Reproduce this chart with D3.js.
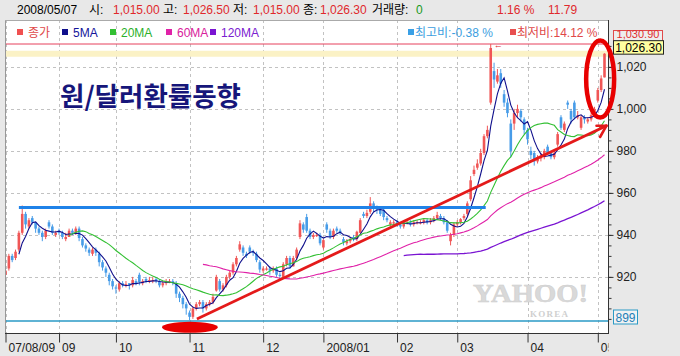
<!DOCTYPE html>
<html><head><meta charset="utf-8">
<script src="https://cdn.jsdelivr.net/npm/d3@7/dist/d3.min.js"></script>
<style>html,body{margin:0;padding:0;background:#e8e8e8;}svg{display:block;}</style>
</head><body>
<svg id="c" width="680" height="356"></svg>
<script>
// ---- data ----
const opens = [921,924,930,929,933,941,950,944,948,946,943,941,939,946,944,940,942,941,938,939,942,941,943,938,935,933,931,933,931,927,924,921,918,915,914,917,916,917,916,918,921,917,919,918,918,919,918,916,917,918,918,917,912,910,907,903,901,905,907,908,905,907,908,913.5,918,914,916,920,922,926,933,934,931,934,932,931,927,923,924,924,923,924,921,920,926,929,925,929,939,945,948.5,942,939,940,940,934,945,942,939,943,942,938,936,937,939,938,941,950,949,951,955,953,952,952,948,945,946,946,945,944,946,946,945,946,946,946,947,946,947,948,949,948,946,937,940,945,946,948,950,957,969,972,974,979,987,1003,1018,1013,1017,1007,1003,993,993,998,999,995,990,980,979,975,977,977,982,979,977,983,996,990,1003,999,1003,996,991,996,994,995,997,1004,1009,1015];
const highs = [924,931,931,933,942,954,951,948,949,946,944,942,943,947,945,942,943,942,941,943,943,944,944,939,936,934,934,934,932,928,925,922,919,916,918,918,918,917,920,919,922,919,920,920,920,920,919,918,919,919,919,918,913,911,908,904,906,908,909,909,908,909,912,921,919,917,921,923,927,930,937,935,932,935,933,932,928,925,925,925,925,925,922,927,930,930,930,934,947,946,950,943,941,941,941,938,946,943,943,944,943,939,938,939,940,942,948,951,952,958,956,954,953,953,949,947,947,947,946,947,947,947,947,947,947,948,948,948,949,951,950,949,947,941,946,947,948,950,956,968,973,976,981,988,992,1030.9,1022,1019,1019,1009,1005,995,1000,1002,1000,996,991,982,980,978,979,981,983,980,980,989,997,994,1004,1000,1004,999,997,997,996,998,1001,1010,1016,1026.5];
const lows = [920,923,927,928,932,940,943,943,945,941,940,937,938,943,940,939,940,938,937,939,940,940,937,934,932,930,930,930,925,923,920,916,914,912,913,915,915,914,915,916,916,916,917,917,917,917,915,915,916,917,916,910,908,905,902,899.3,900,904,906,903,904,906,907,913,913,913,915,919,921,925,932,930,929,931,930,927,922,922,923,921,922,920,919,920,925,924,925,928,938,941,941,938,938,939,935,933,941,938,938,941,940,935,935,936,937,937,941,948,948,950,951,950,949,947,946,944,944,944,943,943,945,944,944,945,945,945,945,945,946,947,947,945,941,935,939,944,945,947,949,956,968,971,973,978,986,1002,1010,1012,1010,1001,996,977,990,996,994,988,983,976,973,974,975,976,978,976,976,982,990,989,1000,993,995,995,990,993,993,994,996,1003,1008,1015];
const closes = [923,930,928,932,941,950,945,947,946,943,941,939,942,944,941,941,941,939,939,942,941,943,938.5,935,933.5,931.5,933,931.5,927,924.5,922,918,915.5,914.5,917,916,916.5,916,918.5,917,917.5,918,918,918.5,918.5,918,916,917,918,918,917.5,912,910,907,905,901,905,907,908,905,907,908,910.5,920,914,916,920,922,926,929,935.5,931.5,930,932,931.5,928,923.5,924,924,923,924,921,920.5,926,929,925,929,933,945.5,942.5,942,939,940,940,936,937.5,942.5,939,942,942,941,936.5,937,938,938,941.5,947,949,950.5,955,953,952,950,948.5,947,946,946,945,944,946,946,945,946,946,946,947,946,947,948,949.5,948,946,942,940,945,946,947.5,949,955,966,971,974,979,987,990,1029,1014,1016,1012,1003,998,980,998,1000,996,990,985.5,978,975,977,977,980,979,977,979,988,991,993,1002,995,996,997,996,995,995,997,1000,1009,1014.5,1026.3];
const monthTickIndex = [0,16,33,55,77,95,117,135,156,177];
const monthTickLabels = ["07/08/09","09","10","11","12","2008/01","02","03","04","05"];
const maPeriods = [5,20,60,120];
const maNames = ["5MA","20MA","60MA","120MA"];
const yTickValues = [920,940,960,980,1000,1020];
const maxValue = 1030.90, minValue = 899, lastValue = 1026.30;
const resistanceLine = [[4,953],[143.5,953]];
const trendLine = [[57.2,900],[179.6,992]];
const bottomMark = [55.1,896];
const recentMark = [177.7,1014.2];
const titleText = "원/달러환률동향";
const infoItems = [["2008/05/07","#000"],["시:","#000"],["1,015.00","red"],["고:","#000"],["1,026.50","red"],["저:","#000"],["1,015.00","red"],["종:","#000"],["1,026.30","red"],["거래량:","#000"],["0","green"],["1.16 %","red"],["11.79","red"]];
const ratioLabels = ["최고비:-0.38 %","최저비:14.12 %"];

// ---- drawing ----
const W=680,H=356;
const P={l:5,r:608,t:20,b:333};
const UP="#f05656", DOWN="#479ce8", RED="#e0282c";
const FONT='"Liberation Sans","Noto Sans CJK KR",sans-serif';
const x=d3.scaleLinear().domain([0,179]).range([5.5,604.5]);
const y=d3.scaleLinear().domain([890,1040]).range([339.9,24.9]);
const svg=d3.select("#c").attr("font-family",FONT);
svg.append("rect").attr("width",W).attr("height",H).attr("fill","#e8e8e8");
svg.append("rect").attr("x",P.l).attr("y",P.t).attr("width",P.r-P.l).attr("height",P.b-P.t).attr("fill","#fff");
const defs=svg.append("defs");
defs.append("clipPath").attr("id","pc").append("rect").attr("x",P.l).attr("y",P.t).attr("width",P.r-P.l).attr("height",P.b-P.t);
defs.append("clipPath").attr("id","xc").append("rect").attr("x",0).attr("y",0).attr("width",608.5).attr("height",40);

const grid=svg.append("g").attr("clip-path","url(#pc)");
grid.selectAll("line.v").data(monthTickIndex).join("line").attr("class","v")
  .attr("x1",d=>Math.round(x(d))+0.5).attr("x2",d=>Math.round(x(d))+0.5)
  .attr("y1",P.t).attr("y2",P.b).attr("stroke","#c2c2c2").attr("stroke-dasharray","3,3");
grid.selectAll("line.h").data(yTickValues).join("line").attr("class","h")
  .attr("x1",P.l).attr("x2",P.r).attr("y1",d=>Math.round(y(d))+0.5).attr("y2",d=>Math.round(y(d))+0.5)
  .attr("stroke","#c2c2c2").attr("stroke-dasharray","3,3");

// watermark
svg.append("text").attr("x",473).attr("y",302).attr("font-family","Liberation Serif,serif").attr("font-weight","bold")
  .attr("font-size",25).attr("textLength",115).attr("lengthAdjust","spacingAndGlyphs")
  .attr("fill","#d9d9d9").attr("stroke","#cdcdcd").attr("stroke-width",0.5).text("YAHOO!");
svg.append("text").attr("x",530).attr("y",316.5).attr("font-family","Liberation Serif,serif").attr("font-weight","bold")
  .attr("font-size",9).attr("textLength",38).attr("fill","#cfcfcf").text("KOREA");

// reference lines
const ref=svg.append("g").attr("clip-path","url(#pc)");
ref.append("line").attr("x1",P.l).attr("x2",P.r).attr("y1",y(lastValue)).attr("y2",y(lastValue)).attr("stroke","#fbf2c6").attr("stroke-width",6);
ref.append("line").attr("x1",P.l).attr("x2",P.r).attr("y1",y(maxValue)).attr("y2",y(maxValue)).attr("stroke","#e6405c").attr("stroke-width",1);
ref.append("line").attr("x1",P.l).attr("x2",P.r).attr("y1",y(minValue)).attr("y2",y(minValue)).attr("stroke","#2a9ac6").attr("stroke-width",1.3);

// candles
const data=closes.map((c,i)=>({i,o:opens[i],h:highs[i],l:lows[i],c}));
const cg=svg.append("g").attr("clip-path","url(#pc)");
cg.selectAll("line.w").data(data).join("line").attr("class","w")
  .attr("x1",d=>x(d.i)).attr("x2",d=>x(d.i)).attr("y1",d=>y(d.h)).attr("y2",d=>y(d.l))
  .attr("stroke",d=>d.c>=d.o?UP:DOWN).attr("stroke-width",1);
cg.selectAll("rect.b").data(data).join("rect").attr("class","b")
  .attr("x",d=>x(d.i)-1.3).attr("width",2.6)
  .attr("y",d=>y(Math.max(d.o,d.c))).attr("height",d=>Math.max(1.2,Math.abs(y(d.o)-y(d.c))))
  .attr("fill",d=>d.c>=d.o?UP:DOWN);

// moving averages
const maColors=["#10108c","#33c033","#e022a8","#7a14d2"];
maPeriods.forEach((p,k)=>{
  const vals=closes.map((c,i)=>i<p-1?null:d3.mean(closes.slice(i-p+1,i+1)));
  const ln=d3.line().defined(d=>d!=null).x((d,i)=>x(i)).y(d=>y(d));
  cg.append("path").datum(vals).attr("d",ln).attr("fill","none").attr("stroke",maColors[k]).attr("stroke-width",k===3?1.3:1.1);
});

// plot borders
svg.append("line").attr("x1",P.l+0.5).attr("x2",P.l+0.5).attr("y1",P.t).attr("y2",P.b).attr("stroke","#999");
svg.append("line").attr("x1",P.l).attr("x2",P.r).attr("y1",P.t+0.5).attr("y2",P.t+0.5).attr("stroke","#aaa");

// y axis (right)
const yMinor=d3.axisRight(y).tickValues(d3.range(900,1035,5)).tickSize(3).tickFormat("");
const yMajor=d3.axisRight(y).tickValues(yTickValues).tickSize(5).tickPadding(3).tickFormat(d3.format(","));
const ya1=svg.append("g").attr("transform",`translate(${P.r+0.5},0)`).call(yMinor);
const ya2=svg.append("g").attr("transform",`translate(${P.r+0.5},0)`).call(yMajor);
[ya1,ya2].forEach(a=>{a.select(".domain").remove();a.selectAll("line").attr("stroke","#333");});
ya2.selectAll("text").attr("font-size",12).attr("fill","#222").attr("font-family",FONT);
svg.append("line").attr("x1",P.r+0.5).attr("x2",P.r+0.5).attr("y1",P.t).attr("y2",P.b+1).attr("stroke","#333");

// x axis
const xa=svg.append("g").attr("transform",`translate(0,${P.b+0.5})`)
  .call(d3.axisBottom(x).tickValues(monthTickIndex).tickSize(9).tickFormat((d,i)=>monthTickLabels[i]));
xa.select(".domain").remove();
svg.append("line").attr("x1",P.l).attr("x2",P.r+1).attr("y1",P.b+0.5).attr("y2",P.b+0.5).attr("stroke","#333");
xa.selectAll("line").attr("stroke","#333");
xa.selectAll("text").attr("text-anchor","start").attr("dx",2.5).attr("y",10).attr("font-size",12).attr("fill","#222").attr("font-family",FONT);
xa.attr("clip-path","url(#xc)");

// legend
const lg=svg.append("g").attr("font-size",12);
const legendSq=["#f05050","#10108c","#33c033","#e022a8","#7a14d2"];
const legendTextCols=["#e04848","#14149a","#2bb02b","#d8209c","#7a20d0"];
const legendNames=["종가"].concat(maNames);
const legendX=[17,62,110,166,210];
legendNames.forEach((n,k)=>{
  lg.append("rect").attr("x",legendX[k]).attr("y",29).attr("width",6).attr("height",6).attr("fill",legendSq[k]);
  lg.append("text").attr("x",legendX[k]+11).attr("y",36.5).attr("fill",legendTextCols[k]).text(n);
});
lg.append("rect").attr("x",408).attr("y",29).attr("width",6).attr("height",6).attr("fill","#3aa0e6");
lg.append("text").attr("x",415).attr("y",36.5).attr("fill","#3c9ee0").text(ratioLabels[0]);
lg.append("rect").attr("x",510).attr("y",29).attr("width",6).attr("height",6).attr("fill","#e85050");
lg.append("text").attr("x",517).attr("y",36.5).attr("fill","#e04848").text(ratioLabels[1]);

// small max marker
svg.append("text").attr("x",x(145)+3).attr("y",y(maxValue)+3.5).attr("font-size",9).attr("fill",RED).text("←");

// annotations
const ann=svg.append("g");
ann.append("text").attr("x",60).attr("y",106).attr("font-family",'"Noto Sans CJK KR",sans-serif').attr("font-weight","bold")
  .attr("font-size",26.5).attr("fill","#16167a").text(titleText);
ann.append("line").attr("x1",x(resistanceLine[0][0])).attr("x2",x(resistanceLine[1][0]))
  .attr("y1",y(resistanceLine[0][1])).attr("y2",y(resistanceLine[1][1])).attr("stroke","#1f82e8").attr("stroke-width",3);
const t0=[x(trendLine[0][0]),y(trendLine[0][1])], t1=[x(trendLine[1][0]),y(trendLine[1][1])];
ann.append("line").attr("x1",t0[0]).attr("y1",t0[1]).attr("x2",t1[0]).attr("y2",t1[1]).attr("stroke","#e41a1a").attr("stroke-width",2.8);
const len=Math.hypot(t0[0]-t1[0],t0[1]-t1[1]); const bv=[(t0[0]-t1[0])/len,(t0[1]-t1[1])/len];
[[25,10],[-35,13]].forEach(([deg,L])=>{const a=deg*Math.PI/180;
  const v=[bv[0]*Math.cos(a)-bv[1]*Math.sin(a), bv[0]*Math.sin(a)+bv[1]*Math.cos(a)];
  ann.append("line").attr("x1",t1[0]).attr("y1",t1[1]).attr("x2",t1[0]+v[0]*L).attr("y2",t1[1]+v[1]*L).attr("stroke","#e41a1a").attr("stroke-width",2.6).attr("stroke-linecap","round");});
ann.append("ellipse").attr("cx",x(bottomMark[0])).attr("cy",y(bottomMark[1])).attr("rx",28).attr("ry",5.5).attr("fill","#e80000");

// price boxes
const bx=svg.append("g").attr("font-size",12);
bx.append("rect").attr("x",613.5).attr("y",y(maxValue)-13.5).attr("width",49).attr("height",14).attr("fill","#eeeeee").attr("stroke","#e04a4a");
bx.append("text").attr("x",638).attr("y",y(maxValue)-6).attr("font-size",11).attr("text-anchor","middle").attr("fill","#e03030").text(d3.format(",.2f")(maxValue));
bx.append("rect").attr("x",613.5).attr("y",y(lastValue)-13).attr("width",50).attr("height",13.5).attr("fill","#ffffa0").attr("stroke","#222");
bx.append("text").attr("x",638.5).attr("y",y(lastValue)-2).attr("text-anchor","middle").attr("fill","#000").text(d3.format(",.2f")(lastValue));
bx.append("rect").attr("x",613.5).attr("y",y(minValue)-11).attr("width",24).attr("height",14).attr("fill","#f2f2f2").attr("stroke","#2a9ac6");
bx.append("text").attr("x",625.5).attr("y",y(minValue)+0.5).attr("text-anchor","middle").attr("fill","#1d7fb8").text(d3.format(",")(minValue));

// ring around latest candles
ann.append("ellipse").attr("cx",x(recentMark[0])).attr("cy",y(recentMark[1])).attr("rx",14).attr("ry",38.5)
  .attr("fill","none").attr("stroke","#e80000").attr("stroke-width",4.5);

// info bar
const infoX=[17,89,113,163,183,233,253,303,320,372,416,497,548];
const ib=svg.append("g").attr("font-size",12);
infoItems.forEach(([t,c],k)=>{
  ib.append("text").attr("x",infoX[k]).attr("y",14).attr("fill",c==="red"?RED:(c==="green"?"#1a9a1a":"#000")).text(t);
});
</script>
</body></html>
